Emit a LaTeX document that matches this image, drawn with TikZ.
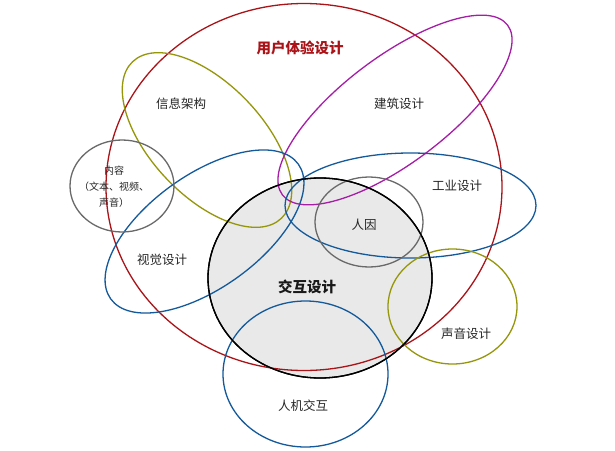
\documentclass[tikz,border=0pt]{standalone}
\usepackage{fontspec}
\setmainfont{Noto Sans CJK SC}
\usepackage{xcolor}
\usepackage{tikz}
\usetikzlibrary{shapes.geometric, positioning}
\definecolor{uxred}{RGB}{170, 20, 25}
\definecolor{areaolive}{RGB}{150, 150, 10}
\definecolor{areablue}{RGB}{20, 90, 155}
\definecolor{areamagenta}{RGB}{165, 30, 165}
\definecolor{areagray}{RGB}{105, 105, 105}
\definecolor{ixdfill}{RGB}{233, 233, 233}

\begin{document}
\begin{tikzpicture}[
  x=1pt, y=-1pt,
  area/.style={ellipse, draw, line width=1.3pt, inner sep=0pt},
  lbl/.style={font=\fontsize{12.5}{14}\selectfont, text=black!85},
  big/.style={font=\fontsize{14.5}{16}\selectfont\bfseries}
]
\useasboundingbox[fill=white] (0,0) rectangle (615,450);

% interaction design, filled first
\node[area, fill=ixdfill, minimum width=224pt, minimum height=200pt] (ixd) at (320,278) {};

% outer and side areas
\node[area, draw=uxred, minimum width=396pt, minimum height=367pt] (ux) at (304,187) {};
\node[area, draw=areaolive, minimum width=216pt, minimum height=112pt, rotate=-46.5] (ia) at (207,140) {};
\node[area, draw=areamagenta, minimum width=282pt, minimum height=106pt, rotate=37] (arch) at (395,110) {};
\node[area, draw=areablue, minimum width=231pt, minimum height=113pt, rotate=35.7] (vis) at (204.5,231.5) {};
\node[area, draw=areablue, minimum width=251pt, minimum height=105pt] (ind) at (410.5,205.5) {};
\node[area, draw=areagray, minimum width=104pt, minimum height=92pt] (cont) at (122,186) {};
\node[area, draw=areagray, minimum width=108pt, minimum height=90pt] (hf) at (369,222) {};
\node[area, draw=areaolive, minimum width=129pt, minimum height=115pt] (snd) at (452.5,306.5) {};
\node[area, draw=areablue, minimum width=165pt, minimum height=146pt] (hci) at (305.5,374) {};
\node[area, draw=black, minimum width=224pt, minimum height=200pt] (ixdline) at (320,278) {};

% labels
\node[big, text=uxred] (uxlbl) at (300,48) {用户体验设计};
\node[lbl] (ialbl) at (181,104) {信息架构};
\node[lbl] (archlbl) at (399,104) {建筑设计};
\node[align=center, font=\fontsize{10}{16}\selectfont, text=black!85] (contlbl) at (114,187)
  {内容\\（文本、视频、\\声音）};
\node[lbl] (vislbl) at (162,260) {视觉设计};
\node[big, text=black!90] (ixdlbl) at (307,287) {交互设计};
\node[lbl] (hflbl) at (364,225) {人因};
\node[lbl] (indlbl) at (457,186) {工业设计};
\node[lbl] (sndlbl) at (466,334) {声音设计};
\node[lbl] (hcilbl) at (303,406) {人机交互};

\end{tikzpicture}
\end{document}
